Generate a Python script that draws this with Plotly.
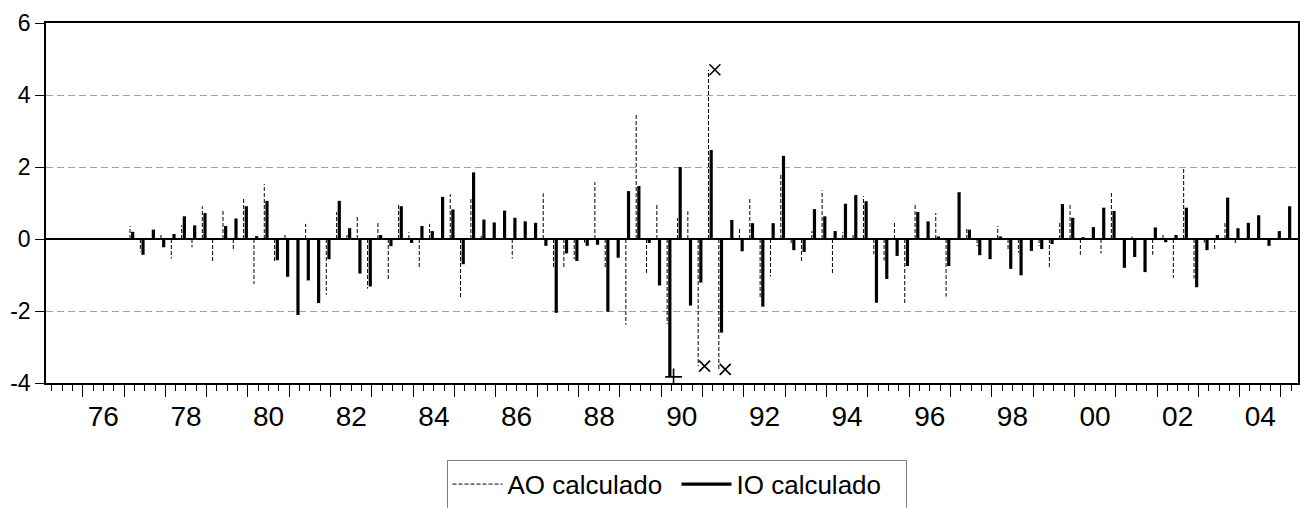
import numpy as np
import plotly.graph_objects as go

# Quarterly observations, first = 1977Q1, last = 2005Q1
start_year = 1977
quarters = [f"{start_year + i // 4}Q{i % 4 + 1}" for i in range(113)]

io_calculado = [
    0.20, -0.44, 0.26, -0.23, 0.14, 0.63, 0.38, 0.72,
    0.00, 0.36, 0.57, 0.91, 0.08, 1.06, -0.59, -1.05,
    -2.11, -1.15, -1.78, -0.56, 1.06, 0.30, -0.96, -1.32,
    0.11, -0.20, 0.91, -0.11, 0.36, 0.22, 1.17, 0.82,
    -0.70, 1.85, 0.54, 0.46, 0.79, 0.59, 0.49, 0.45,
    -0.19, -2.05, -0.40, -0.61, -0.19, -0.16, -2.02, -0.52,
    1.33, 1.47, -0.11, -1.29, -3.83, 2.00, -1.85, -1.21,
    2.47, -2.60, 0.53, -0.34, 0.44, -1.88, 0.44, 2.31,
    -0.31, -0.36, 0.83, 0.63, 0.22, 0.98, 1.22, 1.05,
    -1.77, -1.11, -0.47, -0.75, 0.75, 0.49, 0.07, -0.75,
    1.30, 0.26, -0.45, -0.56, 0.07, -0.83, -1.01, -0.33,
    -0.28, -0.14, 0.97, 0.59, 0.05, 0.33, 0.87, 0.78,
    -0.80, -0.50, -0.92, 0.32, -0.09, 0.11, 0.87, -1.34,
    -0.31, 0.11, 1.15, 0.30, 0.45, 0.66, -0.19, 0.22,
    0.91,
]

ao_calculado = [
    0.36, -0.35, 0.00, 0.17, -0.54, 0.38, -0.23, 0.91,
    -0.66, 0.80, -0.33, 1.15, -1.25, 1.53, -0.66, 0.14,
    0.00, 0.42, 0.00, -1.55, 0.75, 0.11, 0.63, -1.38,
    0.45, -1.15, 0.97, 0.19, -0.80, 0.42, 0.00, 1.25,
    -1.64, 1.13, 0.09, 0.00, 0.00, -0.54, 0.00, 0.00,
    1.27, -0.80, -0.80, -0.56, -0.10, 1.58, -0.80, 0.00,
    -2.38, 3.45, -0.94, 0.97, -2.36, 0.58, 0.77, -3.53,
    4.70, -3.62, 0.00, 0.28, 1.17, -1.66, -1.04, 1.80,
    -0.15, -0.65, 0.22, 1.35, -0.99, 0.19, 0.16, 1.19,
    -0.42, -0.60, 0.45, -1.81, 1.00, 0.00, 0.72, -1.60,
    0.00, 0.30, -0.20, 0.00, 0.36, -0.31, -0.38, 0.00,
    -0.19, -0.80, 0.45, 0.97, -0.44, 0.00, -0.40, 1.33,
    0.00, 0.07, 0.00, -0.44, 0.14, -1.08, 1.99, -1.10,
    -0.10, -0.33, 0.50, -0.14, 0.00, 0.00, 0.00, 0.00,
    0.00,
]

outlier_threshold = 3.5

year_labels = ["76", "78", "80", "82", "84", "86", "88", "90",
               "92", "94", "96", "98", "00", "02", "04"]
label_years = [1976, 1978, 1980, 1982, 1984, 1986, 1988, 1990,
               1992, 1994, 1996, 1998, 2000, 2002, 2004]
y_tick_vals = [-4, -2, 0, 2, 4, 6]
y_tick_text = ["-4", "-2", "0", "2", "4", "6"]

# ---- positions (each quarter occupies [t, t+0.25) on a year axis)
def q_start(q):
    y, n = q.split("Q")
    return int(y) + (int(n) - 1) / 4.0

t0 = np.array([q_start(q) for q in quarters])
ao_x = t0 + 0.145
io_x = t0 + 0.21
mark_x = t0 + 0.30

def spikes(xs, vals):
    X, Y = [], []
    for x, v in zip(xs, vals):
        X += [x, x, None]
        Y += [0, v, None]
    return X, Y

FONT = "Liberation Sans, Arial, sans-serif"
fig = go.Figure()

ax, ay = spikes(ao_x, ao_calculado)
fig.add_trace(go.Scatter(x=ax, y=ay, mode="lines", name="AO calculado",
                         line=dict(color="black", width=1, dash="4px,2px")))
ix, iy = spikes(io_x, io_calculado)
fig.add_trace(go.Scatter(x=ix, y=iy, mode="lines", name="IO calculado",
                         line=dict(color="black", width=3.2)))

ao_arr = np.array(ao_calculado)
io_arr = np.array(io_calculado)
sel_ao = np.abs(ao_arr) > outlier_threshold
sel_io = np.abs(io_arr) > outlier_threshold
fig.add_trace(go.Scatter(x=mark_x[sel_ao], y=ao_arr[sel_ao], mode="markers",
                         xaxis="x2", showlegend=False, hoverinfo="skip",
                         marker=dict(symbol="x-thin", size=11, color="black",
                                     line=dict(width=1.6, color="black"))))
fig.add_trace(go.Scatter(x=mark_x[sel_io], y=io_arr[sel_io], mode="markers",
                         xaxis="x2", showlegend=False, hoverinfo="skip",
                         marker=dict(symbol="cross-thin", size=12, color="black",
                                     line=dict(width=1.6, color="black"))))

xr = [1975.112, 2005.412]
fig.update_layout(
    width=1301, height=508,
    margin=dict(l=46, r=3, t=23, b=125, autoexpand=False),
    paper_bgcolor="white", plot_bgcolor="white",
    font=dict(family=FONT, color="black"),
    showlegend=True,
    legend=dict(orientation="h", x=0.5036, xanchor="center", y=-0.213, yanchor="top",
                bordercolor="#7f7f7f", borderwidth=1, bgcolor="white",
                font=dict(size=26, family=FONT), itemwidth=50, tracegroupgap=0,
                entrywidth=164, entrywidthmode="pixels"),
    xaxis=dict(range=xr, tickmode="linear", tick0=1975, dtick=1, automargin=False,
               ticks="outside", ticklen=12, tickwidth=1, tickcolor="black",
               showticklabels=False, showgrid=False, zeroline=False,
               showline=True, mirror=True, linecolor="black", linewidth=1.5,
               minor=dict(ticks="outside", ticklen=6, tick0=1975, dtick=0.25,
                          tickcolor="black", tickwidth=1, showgrid=False)),
    xaxis2=dict(range=xr, overlaying="x", anchor="y", side="bottom", automargin=False,
                tickmode="array", tickvals=[y + 0.5 for y in label_years],
                ticktext=year_labels, ticks="outside", ticklen=8,
                tickcolor="rgba(0,0,0,0)",
                showgrid=False, zeroline=False,
                showline=False, tickfont=dict(size=28, family=FONT)),
    yaxis=dict(range=[-4, 6], tickmode="array", tickvals=y_tick_vals,
               ticktext=y_tick_text, automargin=False,
               ticks="outside", ticklen=9, tickwidth=1, tickcolor="black",
               showgrid=True, gridcolor="#a0a0a0", griddash="7px,4px", gridwidth=1,
               zeroline=True, zerolinecolor="black", zerolinewidth=2,
               showline=True, mirror=True, linecolor="black", linewidth=1.5,
               tickfont=dict(size=23, family=FONT)),
)

fig.write_html("out.html", config={"displayModeBar": False},
               post_script="document.body.style.margin='0';"
                           "document.body.style.overflow='hidden';")
